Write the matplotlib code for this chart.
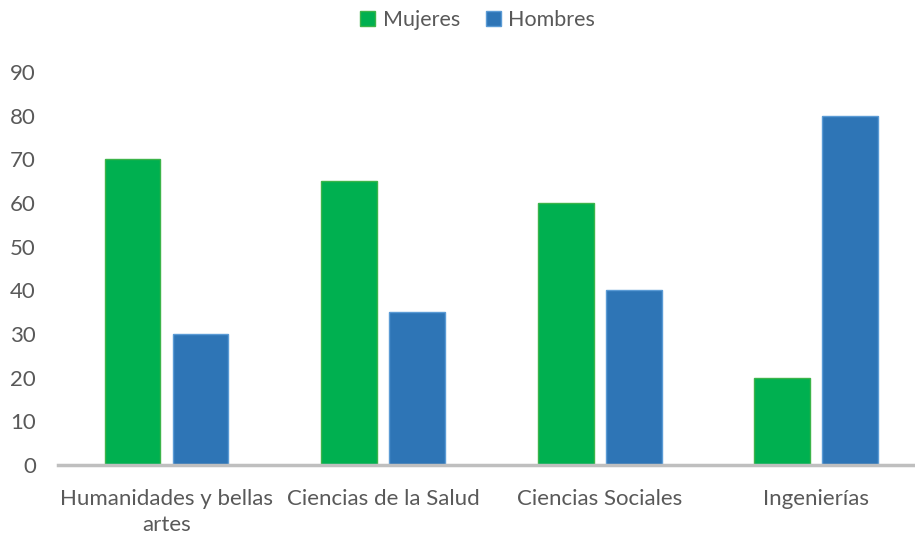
import matplotlib
matplotlib.use("Agg")
import numpy as np
import matplotlib.pyplot as plt

# === Données ===
categories = ["Humanidades y bellas\nartes", "Ciencias de la Salud", "Ciencias Sociales", "Ingenierías"]
mujeres = [70, 65, 60, 20]
hombres = [30, 35, 40, 80]
yticks = [0, 10, 20, 30, 40, 50, 60, 70, 80, 90]

plt.rcParams['font.family'] = ['Lato', 'DejaVu Sans']
text_color = '#595959'

fig = plt.figure(figsize=(9.15, 5.37), dpi=100)
ax = fig.add_axes([0.0636, 0.1341, 0.947, 0.7318])

x = np.arange(len(categories))
w = 0.258
off = 0.157
ax.bar(x - off, mujeres, w, color='#00B050', edgecolor='#3CB44A', linewidth=1, label='Mujeres')
ax.bar(x + off, hombres, w, color='#2E75B6', edgecolor='#5B9BD5', linewidth=1, label='Hombres')

ax.set_xlim(-0.5, len(categories) - 0.5)
ax.set_ylim(0, 90)
ax.set_yticks(yticks)
ax.set_xticks(x)
ax.set_xticklabels(categories, fontsize=16, color=text_color, linespacing=1.4)
ax.tick_params(axis='y', labelsize=16, labelcolor=text_color, length=0, pad=16)
ax.tick_params(axis='x', length=0, pad=17)

for s in ['top', 'right', 'left']:
    ax.spines[s].set_visible(False)
ax.spines['bottom'].set_color('#BFBFBF')
ax.spines['bottom'].set_linewidth(2.5)

fig.legend(loc='upper center', bbox_to_anchor=(0.522, 1.018), ncol=2, frameon=False,
           fontsize=15.5, labelcolor=text_color, handlelength=0.7, handleheight=0.7,
           handletextpad=0.35, columnspacing=1.2)

fig.savefig("out.png", dpi=100)
